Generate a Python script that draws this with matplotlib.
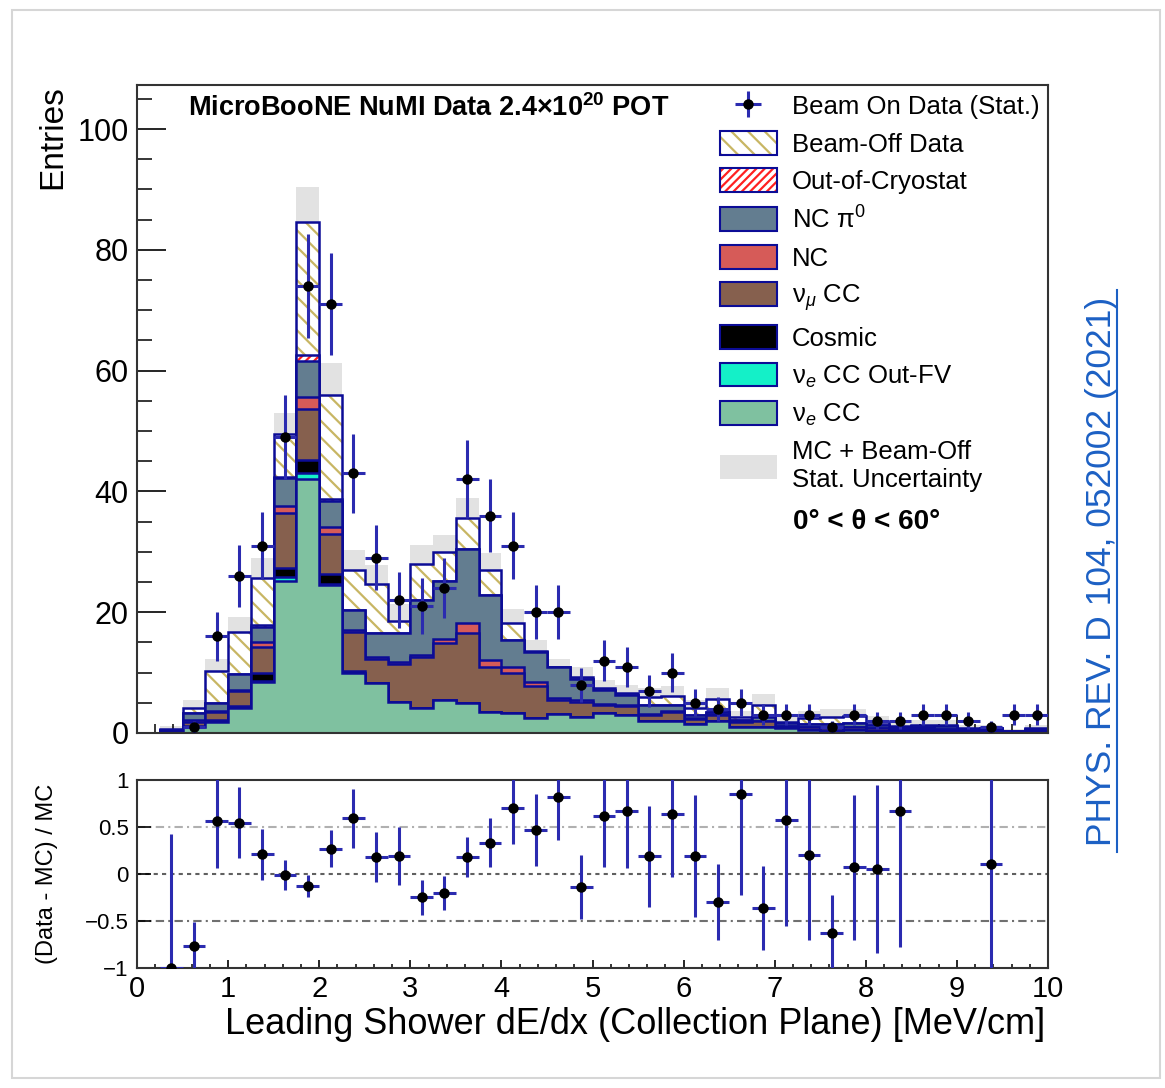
import matplotlib.pyplot as plt
import numpy as np
from matplotlib.patches import Patch, Rectangle
from matplotlib.lines import Line2D
from matplotlib.legend_handler import HandlerTuple
from matplotlib.ticker import MultipleLocator

plt.rcParams['font.family'] = ['Liberation Sans', 'DejaVu Sans']
plt.rcParams['mathtext.fontset'] = 'custom'
plt.rcParams['mathtext.rm'] = 'Liberation Sans'
plt.rcParams['mathtext.it'] = 'Liberation Sans:italic'
plt.rcParams['mathtext.bf'] = 'Liberation Sans:bold'
plt.rcParams['hatch.linewidth'] = 1.6

# 40 bins of 0.25 MeV/cm
edges = np.linspace(0, 10, 41)
centers = 0.5*(edges[1:] + edges[:-1])

# stack components (events per bin)
nue_cc = [0, 0.3, 1.0, 1.9, 4.1, 8.5, 25.2, 42.0, 24.5, 10.0,
          8.3, 5.2, 4.1, 5.5, 4.9, 3.5, 3.3, 2.4, 3.1, 2.7,
          3.3, 3.0, 2.0, 2.0, 1.5, 2.0, 1.0, 1.0, 0.8, 0.5,
          0.3, 0.5, 0.4, 0.3, 0.3, 0.3, 0.2, 0.4, 0.1, 0.2]
nue_outfv = [0, 0, 0, 0, 0, 0.1, 0.7, 1.1, 0.2, 0,
             0, 0, 0, 0, 0, 0, 0, 0, 0, 0,
             0, 0, 0, 0, 0, 0, 0, 0, 0, 0,
             0, 0, 0, 0, 0, 0, 0, 0, 0, 0]
cosmic = [0, 0, 0.1, 0.2, 0.3, 1.3, 1.4, 2.1, 1.6, 0.3,
          0, 0, 0, 0, 0, 0, 0, 0, 0, 0,
          0, 0, 0, 0, 0, 0, 0, 0, 0, 0,
          0, 0, 0, 0, 0, 0, 0, 0, 0, 0]
numu_cc = [0, 0.2, 0.8, 1.4, 2.5, 4.4, 9.1, 8.4, 6.6, 6.4,
           3.9, 6.3, 8.4, 9.4, 11.6, 7.5, 6.7, 5.4, 2.4, 2.5,
           1.3, 1.5, 1.0, 1.5, 0.8, 1.0, 0.8, 1.0, 0.4, 0.5,
           0.6, 0.5, 0.4, 0.3, 0.3, 0.3, 0.2, 0.2, 0.1, 0.2]
nc = [0, 0, 0.3, 0.2, 0.3, 0.7, 1.2, 2.0, 1.2, 0.4,
      0.4, 0.2, 0.4, 0.6, 1.7, 1.1, 1.0, 0.7, 0.3, 0.3,
      0.2, 0.2, 0.1, 0.1, 0.1, 0.1, 0, 0, 0, 0,
      0, 0, 0, 0, 0, 0, 0, 0, 0, 0]
nc_pi0 = [0, 0, 1.1, 1.2, 2.5, 2.6, 4.6, 6.0, 4.3, 3.2,
          3.9, 4.8, 9.1, 9.6, 12.3, 10.7, 4.4, 4.9, 5.2, 3.5,
          2.3, 1.6, 1.5, 1.0, 0.6, 0.3, 0.4, 0.7, 0.4, 0.5,
          0.6, 0.7, 0.5, 0.4, 0.4, 0.5, 0.3, 0.3, 0.1, 0.2]
out_cryo = [0, 0, 0, 0, 0, 0.2, 0.2, 1.0, 0.4, 0.1,
            0, 0, 0, 0, 0, 0, 0, 0, 0, 0,
            0, 0, 0, 0, 0, 0, 0, 0, 0, 0,
            0, 0, 0, 0, 0, 0, 0, 0, 0, 0]
beam_off = [0, 0.2, 0.9, 5.3, 7.1, 7.8, 7.1, 22.0, 17.1, 6.6,
            8.1, 2.0, 6.0, 4.9, 5.1, 4.2, 2.8, 0.2, 0.0, 0.3,
            0.3, 0.3, 1.3, 1.5, 1.2, 2.3, 0.5, 2.0, 0.3, 1.0,
            1.2, 1.1, 0.6, 0.2, 0.3, 0.3, 0.1, 0.0, 0.0, 0.2]
# MC + beam-off statistical uncertainty
stat_unc = [0, 0.4, 1.2, 2.1, 2.4, 3.4, 3.5, 5.8, 5.3, 3.3,
            3.2, 2.8, 3.1, 2.8, 3.3, 2.8, 2.4, 1.8, 1.2, 1.6,
            1.3, 1.3, 1.5, 1.6, 1.3, 1.7, 1.0, 1.8, 0.8, 1.2,
            1.3, 1.2, 0.9, 0.6, 0.8, 0.8, 0.5, 0.4, 0.3, 0.6]
# beam-on data
data = [0, 0, 1, 16, 26, 31, 49, 74, 71, 43,
        29, 22, 21, 24, 42, 36, 31, 20, 20, 8,
        12, 11, 7, 10, 5, 4, 5, 3, 3, 3,
        1, 3, 2, 2, 3, 3, 2, 1, 3, 3]

navy = '#0c0c96'
khaki = '#c8b664'
err_col = '#2b2bb0'
c_nue = '#7fc1a0'
c_outfv = '#14f0c8'
c_numu = '#86604e'
c_nc = '#d65b58'
c_ncpi0 = '#637d90'
c_band = '#e2e2e2'

data = np.array(data, dtype=float)
stat_unc = np.array(stat_unc)
layers = [nue_cc, nue_outfv, cosmic, numu_cc, nc, nc_pi0, out_cryo, beam_off]
styles = [dict(color=c_nue), dict(color=c_outfv), dict(color='black'),
          dict(color=c_numu), dict(color=c_nc), dict(color=c_ncpi0),
          dict(facecolor='white', edgecolor='#ff2020', hatch='////', lw=0),
          dict(facecolor='white', edgecolor=khaki, hatch='\\\\', lw=0)]
cum = np.cumsum(np.array(layers, dtype=float), axis=0)
total = cum[-1]

fig = plt.figure(figsize=(11.65, 10.88), dpi=100)
ax = fig.add_axes([0.1176, 0.3263, 0.782, 0.5956])
ax2 = fig.add_axes([0.1176, 0.1103, 0.782, 0.1728])

# uncertainty band sits underneath the stack
ax.bar(centers, 2*stat_unc, bottom=total - stat_unc, width=0.25,
       color=c_band, lw=0, zorder=1)

# draw like THStack: top histogram first, each filled from zero
for k in range(len(layers) - 1, -1, -1):
    ax.stairs(cum[k], edges, baseline=0, fill=True, zorder=2, **styles[k])
    ax.stairs(cum[k], edges, baseline=None, color=navy, lw=1.8, zorder=2)

m = data > 0
eb = ax.errorbar(centers[m], data[m], yerr=np.sqrt(data[m]), xerr=0.125,
                 fmt='o', color='black', ms=6.5, ecolor=err_col,
                 elinewidth=2.2, capsize=0, zorder=5)

ax.set_xlim(0, 10)
ax.set_ylim(0, 107.3)
ax.set_yticks([0, 20, 40, 60, 80, 100])
ax.yaxis.set_minor_locator(MultipleLocator(5))
ax.set_xticks(range(11))
ax.xaxis.set_minor_locator(MultipleLocator(0.2))
ax.set_xticklabels([])
ax.tick_params(axis='y', which='major', direction='in', length=21, width=1.2,
               labelsize=22, pad=6)
ax.tick_params(axis='y', which='minor', direction='in', length=11, width=1.1)
ax.tick_params(axis='x', which='major', direction='in', length=13, width=1.2)
ax.tick_params(axis='x', which='minor', direction='in', length=6.5, width=1.1)
for s in ax.spines.values():
    s.set_linewidth(1.5)
    s.set_color('#333333')
ax.set_ylabel('Entries', fontsize=24, loc='top')
ax.yaxis.set_label_coords(-0.076, 1.0)

ax.text(0.056, 0.9645, 'MicroBooNE NuMI Data 2.4×10$^{\\mathbf{20}}$ POT',
        transform=ax.transAxes, fontsize=19.5, fontweight='bold',
        ha='left', va='center')
ax.text(0.72, 0.325, '0° < θ < 60°', transform=ax.transAxes,
        fontsize=20, fontweight='bold', ha='left', va='center')

edge_box = Patch(facecolor='none', edgecolor=navy, lw=1.5)
handles = [eb,
           (Patch(facecolor='white', edgecolor=khaki, hatch='\\\\', lw=0), edge_box),
           (Patch(facecolor='white', edgecolor='#ff2020', hatch='////', lw=0), edge_box),
           Patch(facecolor=c_ncpi0, edgecolor=navy, lw=1.5),
           Patch(facecolor=c_nc, edgecolor=navy, lw=1.5),
           Patch(facecolor=c_numu, edgecolor=navy, lw=1.5),
           Patch(facecolor='black', edgecolor=navy, lw=1.5),
           Patch(facecolor=c_outfv, edgecolor=navy, lw=1.5),
           Patch(facecolor=c_nue, edgecolor=navy, lw=1.5),
           Patch(facecolor=c_band, edgecolor='none')]
labels = ['Beam On Data (Stat.)', 'Beam-Off Data', 'Out-of-Cryostat',
          'NC π$^{0}$', 'NC', 'ν$_{\\mu}$ CC', 'Cosmic', 'ν$_{e}$ CC Out-FV',
          'ν$_{e}$ CC', 'MC + Beam-Off\nStat. Uncertainty']
ax.legend(handles, labels, loc='upper left', bbox_to_anchor=(0.640, 0.987),
          frameon=False, fontsize=18.5, borderpad=0, borderaxespad=0,
          handlelength=2.2, handleheight=1.05, handletextpad=0.6,
          labelspacing=0.46, handler_map={tuple: HandlerTuple(ndivide=1)})

# ratio panel
with np.errstate(divide='ignore', invalid='ignore'):
    ratio = data/total - 1
    d_err = np.where(data > 0, np.sqrt(data), 1.0)
    r_err = np.sqrt((d_err/total)**2 + (data*stat_unc/total**2)**2)
show = (total > 0) & (ratio <= 1)
for y, c, ls in [(0.5, '#b0b0b0', (0, (4, 2, 1, 2))), (0, '#606060', (0, (2, 2))),
                 (-0.5, '#707070', (0, (4, 2, 1, 2)))]:
    ax2.axhline(y, color=c, ls=ls, lw=1.5, zorder=1)
ax2.errorbar(centers[show], ratio[show], yerr=r_err[show], xerr=0.125,
             fmt='o', color='black', ms=6.5, ecolor=err_col, elinewidth=2.2,
             capsize=0, zorder=5)
ax2.set_xlim(0, 10)
ax2.set_ylim(-1, 1)
ax2.set_yticks([-1, -0.5, 0, 0.5, 1])
ax2.set_yticklabels(['−1', '−0.5', '0', '0.5', '1'])
ax2.set_xticks(range(11))
ax2.set_xticklabels([str(i) for i in range(11)])
ax2.xaxis.set_minor_locator(MultipleLocator(0.2))
ax2.tick_params(axis='y', direction='in', length=10, width=1.2, labelsize=16, pad=6)
ax2.tick_params(axis='x', which='major', direction='in', length=6, width=1.2,
                labelsize=21, pad=5)
ax2.tick_params(axis='x', which='minor', direction='in', length=3, width=1.1)
for s in ax2.spines.values():
    s.set_linewidth(1.5)
    s.set_color('#333333')
ax2.set_ylabel('(Data - MC) / MC', fontsize=17)
ax2.yaxis.set_label_coords(-0.087, 0.5)
ax2.set_xlabel('Leading Shower dE/dx (Collection Plane) [MeV/cm]',
               fontsize=26, loc='right')
ax2.xaxis.set_label_coords(0.997, -0.205)

# journal reference on the right
ref_col = '#1c60c4'
fig.text(1101/1165, 1 - 571/1088, 'PHYS. REV. D 104, 052002 (2021)',
         rotation=90, color=ref_col, fontsize=25.5, ha='center', va='center')
fig.add_artist(Line2D([1117/1165, 1117/1165], [1 - 852/1088, 1 - 290/1088],
                      transform=fig.transFigure, color=ref_col, lw=1.5))
fig.add_artist(Rectangle((12/1165, 10/1088), 1148/1165, 1068/1088,
                         transform=fig.transFigure, fill=False,
                         ec='#d6d6d6', lw=1.5))

plt.savefig('out.png', dpi=100)
